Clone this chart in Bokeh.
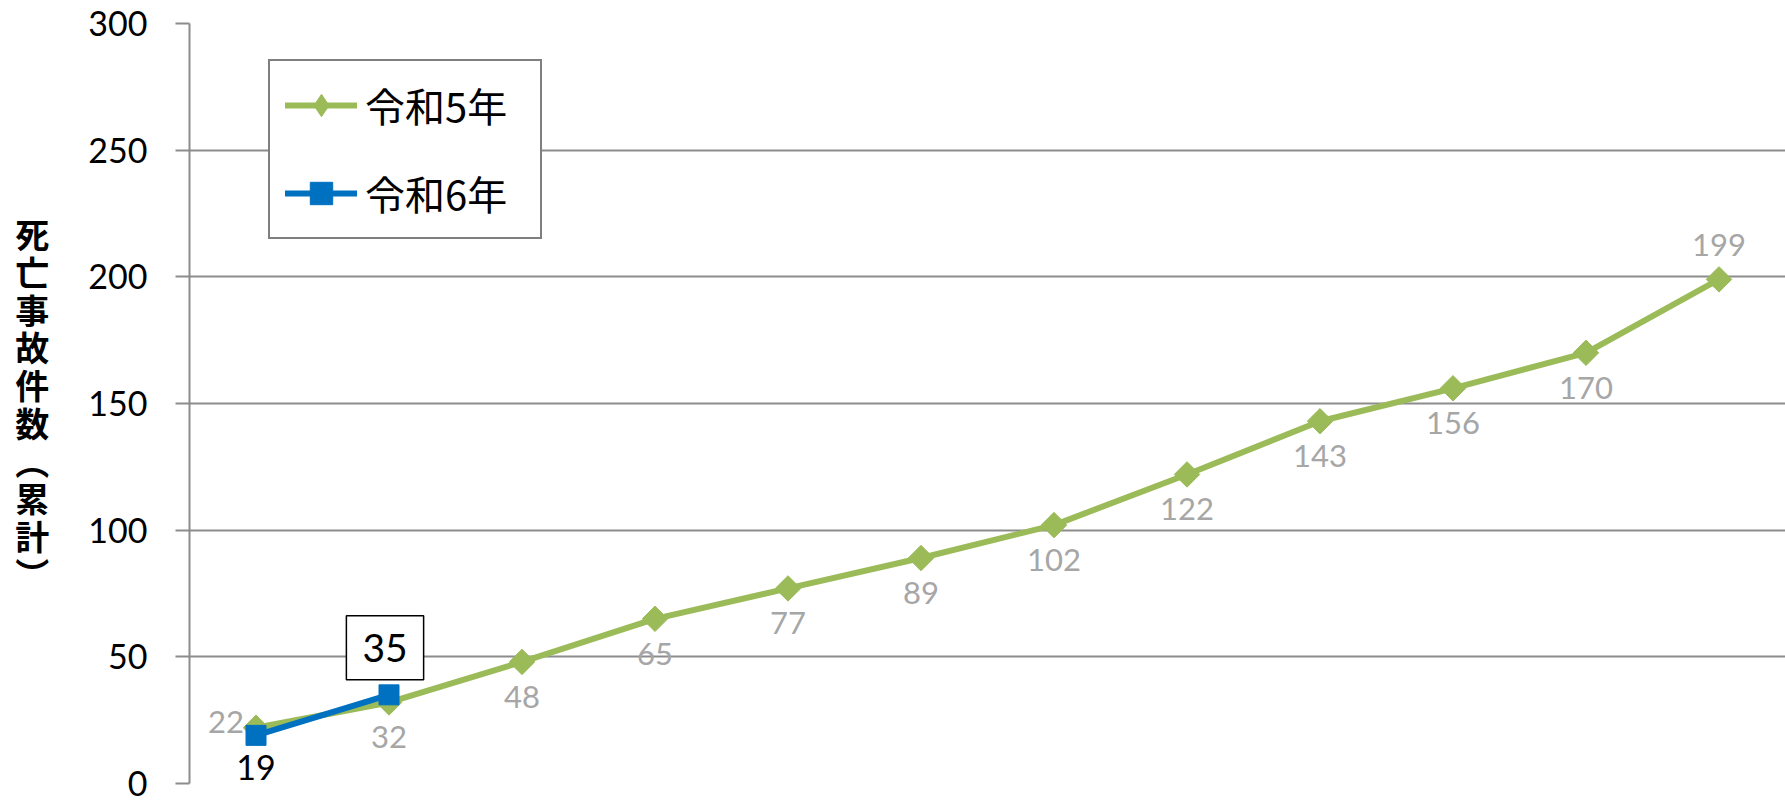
from bokeh.plotting import figure
from bokeh.models import FactorRange, Range1d, FixedTicker, Legend, LegendItem
from bokeh.core.properties import value
from bokeh.embed import file_html
from bokeh.resources import INLINE

# ---- data ----
months = ["1月", "2月", "3月", "4月", "5月", "6月", "7月", "8月", "9月", "10月", "11月", "12月"]
r5_values = [22, 32, 48, 65, 77, 89, 102, 122, 143, 156, 170, 199]
r6_values = [19, 35]
y_ticks = [0, 50, 100, 150, 200, 250, 300]
series_names = ["令和5年", "令和6年"]
y_title = "死亡事故件数（累計）"

# ---- styles ----
GREEN = "#9BBB59"
BLUE = "#0070C0"
LABEL_GRAY = "#A6A6A6"
GRID = "#8C8C8C"
NUM_FONT = "Lato"
CJK_FONT = "Noto Sans CJK JP"

p = figure(
    width=1785, height=803,
    x_range=FactorRange(*months), y_range=Range1d(0, 300),
    x_axis_location=None,
    toolbar_location=None, output_backend="svg",
    min_border_left=189, min_border_top=23, min_border_right=0, min_border_bottom=20,
)
p.outline_line_color = None
p.background_fill_color = "white"
p.xgrid.visible = False
p.ygrid.grid_line_color = GRID
p.ygrid.grid_line_width = 2

ax = p.yaxis[0]
ax.ticker = FixedTicker(ticks=y_ticks)
ax.axis_line_color = GRID
ax.axis_line_width = 2
ax.major_tick_line_color = GRID
ax.major_tick_line_width = 2
ax.major_tick_out = 14
ax.major_tick_in = 0
ax.minor_tick_line_color = None
ax.major_label_standoff = 28
ax.major_label_text_font = NUM_FONT
ax.major_label_text_font_size = "34px"
ax.major_label_text_color = "black"
vertical_title = "\n".join(y_title.replace("（", "︵").replace("）", "︶"))
ax.axis_label = vertical_title
ax.axis_label_orientation = "horizontal"
ax.axis_label_text_font = CJK_FONT
ax.axis_label_text_font_style = "bold"
ax.axis_label_text_font_size = "34px"
ax.axis_label_text_line_height = 0.77
ax.axis_label_text_color = "black"
ax.axis_label_standoff = 36

# ---- series ----
g_line = p.line(months, r5_values, line_color=GREEN, line_width=6, line_cap="round", line_join="round")
g_pts = p.scatter(months, r5_values, marker="square", angle=0.785398, size=18,
                  fill_color=GREEN, line_color=GREEN)
b_line = p.line(months[:len(r6_values)], r6_values, line_color=BLUE, line_width=6, line_cap="round", line_join="round")
b_pts = p.scatter(months[:len(r6_values)], r6_values, marker="square", size=20,
                  fill_color=BLUE, line_color=BLUE)
# legend-only diamond symbol (not drawn in the plot)
g_key = p.scatter(months[:1], r5_values[:1], marker="diamond", size=18,
                  fill_color=GREEN, line_color=GREEN, visible=False)

# ---- data labels (令和5年) ----
common = dict(text_font=value(NUM_FONT), text_baseline="middle")
p.text(months[:1], r5_values[:1], text=[str(v) for v in r5_values[:1]],
       text_align="right", x_offset=-12, y_offset=-6,
       text_color=LABEL_GRAY, text_font_size="31px", **common)
p.text(months[1:11], r5_values[1:11], text=[str(v) for v in r5_values[1:11]],
       text_align="center", y_offset=35,
       text_color=LABEL_GRAY, text_font_size="31px", **common)
p.text(months[11:], r5_values[11:], text=[str(v) for v in r5_values[11:]],
       text_align="center", y_offset=-34,
       text_color=LABEL_GRAY, text_font_size="31px", **common)

# ---- data labels (令和6年) ----
p.text(months[:1], r6_values[:1], text=[str(v) for v in r6_values[:1]],
       text_align="center", y_offset=32,
       text_color="black", text_font_size="34px", **common)
p.text(months[1:2], r6_values[1:2], text=[str(v) for v in r6_values[1:2]],
       text_align="center", x_offset=-4, y_offset=-47,
       text_color="black", text_font_size="39px",
       border_line_color="black", border_line_width=1.5,
       background_fill_color="white", padding=dict(x=16, y=18), **common)

# ---- legend ----
legend = Legend(
    items=[LegendItem(label=series_names[0], renderers=[g_line, g_key]),
           LegendItem(label=series_names[1], renderers=[b_line, b_pts])],
    location=(79, 544),
    orientation="vertical",
    border_line_color="black", border_line_width=2,
    background_fill_color="white", background_fill_alpha=1,
    padding=15, spacing=30, margin=0,
    glyph_width=72, glyph_height=56, label_height=44, label_width=160, label_standoff=8,
    label_text_font=CJK_FONT, label_text_font_size="40px", label_text_color="black",
)
p.add_layout(legend)

open("out.html", "w").write(file_html(p, INLINE))
